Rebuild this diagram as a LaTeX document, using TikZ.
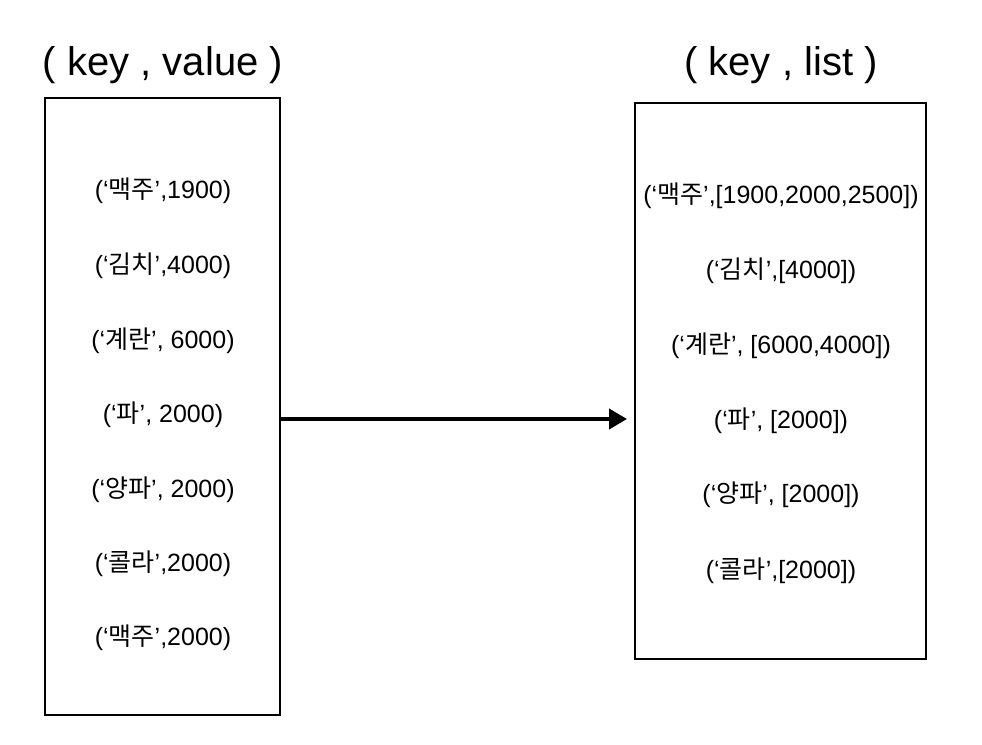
\documentclass[tikz,border=0pt]{standalone}
\usepackage{fontspec}
\setmainfont{Liberation Sans}
\newfontfamily\kr{Noto Sans CJK KR}
\usetikzlibrary{arrows.meta}
\tikzset{
  box/.style={draw=black, line width=1.3pt},
  entry/.style={font=\fontsize{25}{30}\selectfont, inner sep=0pt, anchor=center},
  title/.style={font=\fontsize{40}{46}\selectfont, inner sep=0pt, anchor=center},
  conn/.style={line width=4pt, -{Triangle[length=18pt,width=20pt]}}
}
\begin{document}
\begin{tikzpicture}[x=1pt,y=-1pt]
\useasboundingbox (0,0) rectangle (982,744);
\node[title] (t1) at (163,65) {( key , value )};
\node[title] (t2) at (781,65) {( key , list )};
\draw[box] (45,98) rectangle (280,715);
\coordinate (lb) at (280,419);
\draw[box] (635,103) rectangle (926,659);
\coordinate (rb) at (627,419);
\node[entry] (l1) at (163,191) {(‘{\kr 맥주}’,1900)};
\node[entry] (l2) at (163,266) {(‘{\kr 김치}’,4000)};
\node[entry] (l3) at (163,341) {(‘{\kr 계란}’, 6000)};
\node[entry] (l4) at (163,415) {(‘{\kr 파}’, 2000)};
\node[entry] (l5) at (163,490) {(‘{\kr 양파}’, 2000)};
\node[entry] (l6) at (163,564) {(‘{\kr 콜라}’,2000)};
\node[entry] (l7) at (163,638) {(‘{\kr 맥주}’,2000)};
\node[entry] (r1) at (781,196) {(‘{\kr 맥주}’,[1900,2000,2500])};
\node[entry] (r2) at (781,271) {(‘{\kr 김치}’,[4000])};
\node[entry] (r3) at (781,346) {(‘{\kr 계란}’, [6000,4000])};
\node[entry] (r4) at (781,421) {(‘{\kr 파}’, [2000])};
\node[entry] (r5) at (781,495) {(‘{\kr 양파}’, [2000])};
\node[entry] (r6) at (781,571) {(‘{\kr 콜라}’,[2000])};
\draw[conn] (lb) -- (rb);
\end{tikzpicture}
\end{document}
